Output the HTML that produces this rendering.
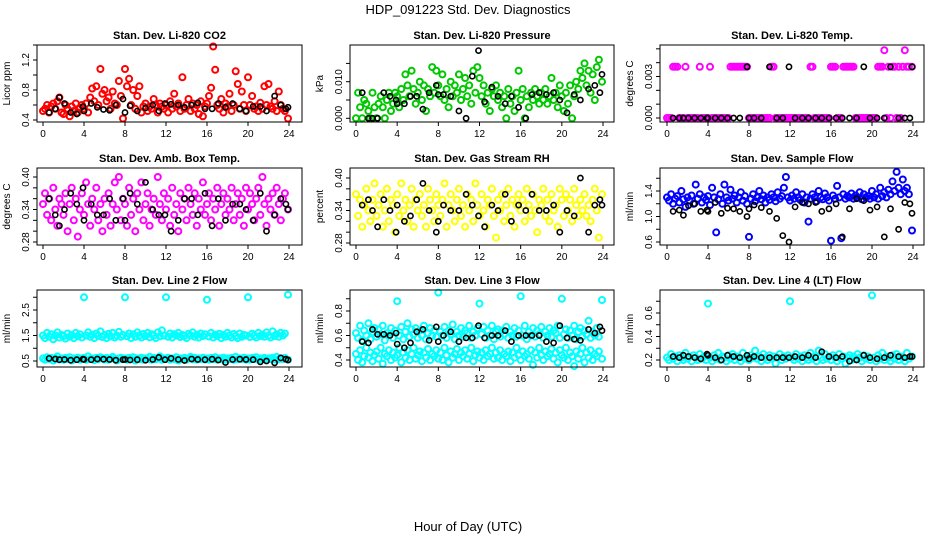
<!DOCTYPE html>
<html><head><meta charset="utf-8">
<style>
html,body{margin:0;padding:0;background:#fff;}
svg{display:block;font-family:"Liberation Sans",sans-serif;}
</style></head>
<body>
<svg id="chart" width="936" height="540" viewBox="0 0 936 540" xmlns="http://www.w3.org/2000/svg">
<rect width="936" height="540" fill="#fff"/>
<text x="468" y="14" text-anchor="middle" font-size="13">HDP_091223  Std. Dev. Diagnostics</text>
<text x="468" y="531" text-anchor="middle" font-size="13">Hour of Day (UTC)</text>
</svg>
<script>
// shared hours for coloured (mean) points and black points
const hoursC = [0,0.2,0.4,0.6,0.8,1,1.2,1.4,1.6,1.8,2,2.2,2.4,2.6,2.8,3,3.2,3.4,3.6,3.8,4,4.2,4.4,4.6,4.8,5,5.2,5.4,5.6,5.8,6,6.2,6.4,6.6,6.8,7,7.2,7.4,7.6,7.8,8,8.2,8.4,8.6,8.8,9,9.2,9.4,9.6,9.8,10,10.2,10.4,10.6,10.8,11,11.2,11.4,11.6,11.8,12,12.2,12.4,12.6,12.8,13,13.2,13.4,13.6,13.8,14,14.2,14.4,14.6,14.8,15,15.2,15.4,15.6,15.8,16,16.2,16.4,16.6,16.8,17,17.2,17.4,17.6,17.8,18,18.2,18.4,18.6,18.8,19,19.2,19.4,19.6,19.8,20,20.2,20.4,20.6,20.8,21,21.2,21.4,21.6,21.8,22,22.2,22.4,22.6,22.8,23,23.2,23.4,23.6,23.9];
const hoursK = [0.6,1.2,1.6,2.1,2.7,3.3,3.9,4,4.7,5.3,5.9,6.5,7.1,7.8,8,8.5,9.2,10,10.7,11.3,11.9,12.5,13.2,13.8,14.5,15.1,15.8,16.5,17.1,17.8,18.5,19.2,19.8,20.5,21.2,21.8,22.6,23.2,23.7,23.9];
const xTicks = [0,4,8,12,16,20,24];

const co2C = [.52,.55,.6,.5,.58,.62,.55,.65,.7,.5,.48,.6,.55,.45,.58,.52,.62,.5,.56,.6,.55,.62,.5,.7,.82,.65,.85,.6,1.08,.75,.8,.65,.7,.55,.78,.62,.6,.92,.72,.42,1.08,.85,.95,.6,.8,.55,.72,.85,.5,.58,.62,.52,.58,.55,.68,.6,.5,.62,.58,.55,.6,.5,.65,.55,.75,.58,.62,.52,.97,.55,.6,.68,.52,.62,.55,.6,.48,.65,.45,.58,.62,.72,.83,1.38,1.07,.6,.55,.68,.5,.62,.58,.75,.52,.6,1.05,.88,.55,.78,.6,.52,.97,.6,.72,.55,.58,.52,.63,.55,.85,.6,.88,.58,.55,.65,.52,.78,.6,.55,.52,.42];
const co2K = [.5,.55,.7,.62,.5,.48,.58,.52,.62,.57,.54,.53,.6,.68,.5,.59,.52,.56,.6,.52,.62,.61,.6,.57,.6,.63,.55,.55,.62,.57,.62,.55,.52,.58,.58,.52,.72,.6,.55,.57];

const presC = [0,.007,.003,0,.005,.004,.002,0,.007,.003,0,.004,.006,.003,0,.005,.007,.002,.004,.007,.006,.003,.008,.005,.012,.009,.006,.013,.008,.004,.007,.01,.005,.009,.002,.008,.006,.014,.007,.013,.009,.006,.012,.005,.008,.003,.01,.006,.009,.007,.012,.005,.008,.011,.006,.009,.004,.013,.007,.014,.011,.006,.009,.004,.007,.002,.008,.006,.009,.005,.007,.003,.006,0,.008,.004,.006,.002,.007,.013,.005,.008,0,.006,.003,.007,.005,.008,.006,.004,.007,.005,.008,.004,.006,.011,.005,.007,.003,.009,.006,.002,.007,.004,.009,0,.006,.01,.008,.013,.011,.015,.009,.013,.007,.012,.005,.014,.016,.01];
const presK = [.007,0,0,0,.007,.006,.005,.004,.004,.006,.006,.0025,.007,.009,.0065,.0065,.006,.002,0,.0115,.0185,.0045,.0085,.006,.004,.006,.003,0,.0065,.007,.0065,.007,.005,.0015,.0065,.005,.008,.009,.007,.012];

const tempC = [0,0,0,.0037,.0037,.0037,0,0,0,.0037,0,0,0,0,0,0,.0037,0,0,0,0,.0037,0,0,0,0,0,0,0,0,0,.0037,.0037,.0037,.0037,.0037,.0037,.0037,.0037,.0037,0,0,0,0,0,0,0,0,0,0,0,.0037,.0037,0,0,0,0,0,0,0,0,0,0,0,0,0,0,0,0,0,.0037,.0037,0,0,0,0,0,0,0,0,.0037,.0037,.0037,0,0,0,.0037,.0037,.0037,.0037,.0037,.0037,0,0,0,0,0,0,0,0,0,0,0,.0037,.0037,.0037,.0049,0,.0037,0,.0037,.0037,0,.0037,0,.0037,.0049,.0037,.0037,.0037];
const tempK = [0,0,0,0,0,0,0,0,0,0,0,0,0,.0037,0,0,0,.0037,0,0,.0037,0,0,0,0,0,0,0,0,0,0,.0037,0,0,0,.0037,0,0,0,.0037];

const ambC = [.35,.37,.33,.36,.32,.38,.34,.31,.36,.35,.33,.37,.30,.35,.38,.32,.36,.29,.34,.37,.33,.39,.35,.31,.36,.34,.38,.32,.35,.30,.36,.33,.37,.31,.35,.39,.34,.40,.32,.36,.35,.31,.38,.33,.36,.30,.37,.34,.39,.32,.35,.37,.31,.34,.36,.33,.40,.35,.32,.37,.34,.36,.31,.38,.33,.35,.30,.37,.34,.36,.32,.38,.35,.33,.37,.31,.36,.34,.39,.33,.35,.37,.32,.36,.34,.38,.31,.35,.37,.33,.36,.34,.38,.32,.35,.37,.33,.36,.31,.38,.34,.37,.35,.32,.36,.38,.33,.40,.35,.31,.36,.34,.37,.33,.38,.35,.32,.36,.37,.34];
const ambK = [.36,.33,.31,.34,.37,.35,.38,.32,.35,.33,.33,.36,.32,.36,.32,.37,.35,.39,.34,.33,.33,.30,.32,.36,.36,.33,.37,.31,.36,.32,.35,.35,.34,.32,.37,.30,.33,.36,.35,.34];

const rhC = [.37,.33,.36,.31,.35,.38,.34,.32,.36,.39,.33,.35,.37,.31,.34,.38,.32,.36,.35,.30,.37,.33,.39,.34,.36,.32,.35,.38,.31,.36,.34,.37,.33,.35,.31,.38,.36,.34,.32,.37,.35,.33,.36,.39,.31,.35,.37,.34,.32,.36,.38,.33,.35,.31,.37,.34,.36,.32,.39,.35,.33,.37,.34,.31,.36,.35,.38,.33,.29,.36,.34,.37,.32,.35,.38,.33,.36,.31,.35,.37,.34,.36,.32,.38,.35,.33,.37,.34,.30,.36,.35,.38,.33,.36,.32,.37,.34,.35,.31,.38,.36,.33,.37,.34,.36,.32,.38,.35,.33,.36,.34,.37,.33,.35,.32,.36,.38,.34,.29,.37];
const rhK = [.35,.36,.34,.31,.36,.34,.30,.35,.32,.33,.36,.39,.34,.30,.32,.35,.34,.34,.37,.35,.33,.31,.35,.34,.37,.32,.35,.34,.37,.34,.34,.35,.30,.34,.33,.40,.30,.35,.36,.35];

const sfC = [1.3,1.25,1.35,1.2,1.28,1.32,1.22,1.4,1.27,1.15,1.3,1.25,1.33,1.2,1.5,1.28,1.35,1.22,1.3,1.26,1.32,1.18,1.45,1.3,0.75,1.27,1.35,1.2,1.5,1.3,1.25,1.42,1.28,1.33,1.22,1.3,1.38,1.25,1.32,1.2,0.68,1.28,1.35,1.24,1.3,1.4,1.27,1.33,1.22,1.3,1.26,1.35,1.3,1.24,1.38,1.28,1.32,1.45,1.62,1.3,1.25,1.33,1.28,1.38,1.3,1.26,1.35,1.22,1.3,0.92,1.28,1.35,1.3,1.24,1.4,1.3,1.27,1.36,1.3,1.25,0.62,1.33,1.28,1.48,1.3,0.66,1.35,1.28,1.32,1.3,1.36,1.28,1.33,1.3,1.38,1.27,1.35,1.3,1.32,1.28,1.4,1.3,1.35,1.28,1.45,1.32,1.38,1.3,1.42,1.35,1.55,1.4,1.7,1.45,1.35,1.58,1.4,1.45,1.35,0.78];
const sfK = [1.08,1.1,1.02,1.17,1.2,1.08,1.1,1.08,1.22,1.05,1.13,1.12,1.08,1.0,1.12,1.18,1.14,1.08,0.97,0.7,0.6,1.15,1.22,1.2,1.22,1.08,1.12,1.2,0.68,1.12,1.28,1.25,1.1,1.15,0.68,1.12,0.8,1.22,1.2,1.05];

const l2Hi = [1.5,1.4,1.6,1.45,1.55,1.35,1.5,1.62,1.42,1.52,1.48,1.38,1.58,1.45,1.52,1.4,1.6,1.47,1.55,1.42,3.0,1.5,1.62,1.45,1.53,1.4,1.58,1.48,1.66,1.44,1.52,1.4,1.57,1.46,1.6,1.42,1.5,1.64,1.45,1.52,3.0,1.47,1.58,1.4,1.55,1.45,1.62,1.5,1.42,1.56,1.48,1.6,1.43,1.55,1.5,1.4,1.62,1.47,1.7,1.5,3.0,1.45,1.58,1.42,1.55,1.5,1.6,1.44,1.52,1.48,1.4,1.57,1.5,1.62,1.45,1.53,1.42,1.58,1.48,1.55,2.9,1.46,1.6,1.42,1.53,1.48,1.57,1.4,1.52,1.45,1.6,1.5,1.42,1.56,1.48,1.4,1.58,1.45,1.52,1.5,3.0,1.44,1.57,1.5,1.42,1.6,1.48,1.53,1.45,1.62,1.5,1.42,1.66,1.48,1.55,1.45,1.6,1.5,1.58,3.1];
const l2Lo = [.6,.55,.65,.58,.62,.52,.6,.68,.56,.6,.55,.62,.58,.65,.52,.6,.57,.63,.55,.6,.62,.55,.68,.58,.6,.53,.62,.57,.65,.6,.56,.62,.55,.6,.66,.58,.52,.6,.63,.57,.6,.55,.62,.58,.65,.52,.6,.57,.63,.55,.6,.58,.66,.55,.62,.57,.6,.68,.55,.6,.58,.63,.55,.6,.57,.65,.52,.6,.58,.62,.55,.6,.66,.57,.62,.55,.6,.58,.63,.56,.6,.55,.62,.58,.65,.55,.6,.57,.63,.55,.6,.58,.62,.55,.66,.57,.6,.58,.63,.55,.6,.56,.62,.58,.65,.55,.6,.57,.62,.55,.6,.58,.63,.56,.66,.57,.6,.58,.62,.55];
const l2K = [.6,.58,.55,.56,.53,.55,.57,.56,.55,.58,.57,.56,.53,.55,.56,.54,.55,.53,.56,.64,.55,.6,.56,.52,.58,.56,.55,.57,.54,.44,.56,.57,.56,.55,.47,.5,.43,.62,.57,.54];

const l3Lo = [.45,.4,.48,.38,.43,.5,.42,.46,.39,.44,.47,.41,.5,.37,.45,.43,.48,.4,.46,.42,.44,.5,.38,.46,.42,.48,.4,.45,.5,.41,.44,.47,.39,.46,.42,.49,.4,.45,.43,.48,.41,.46,.4,.5,.44,.38,.47,.42,.45,.49,.4,.46,.43,.48,.41,.45,.5,.39,.44,.47,.42,.46,.4,.48,.43,.45,.5,.41,.46,.42,.48,.4,.45,.43,.47,.39,.46,.42,.5,.44,.4,.47,.43,.45,.41,.48,.36,.46,.42,.5,.44,.4,.47,.43,.45,.49,.41,.46,.38,.48,.44,.42,.5,.4,.46,.43,.35,.47,.41,.45,.5,.38,.46,.42,.48,.4,.45,.43,.47,.41];
const l3Hi = [.62,.58,.68,.56,.64,.6,.7,.57,.63,.66,.59,.65,.61,.68,.56,.62,.6,.66,.58,.64,.88,.6,.67,.57,.63,.7,.59,.65,.61,.66,.58,.64,.6,.68,.57,.62,.66,.6,.64,.59,.95,.63,.6,.67,.58,.64,.61,.69,.57,.63,.6,.66,.59,.64,.62,.68,.58,.63,.6,.66,.86,.61,.67,.58,.64,.6,.68,.57,.63,.65,.59,.64,.61,.67,.58,.63,.6,.66,.59,.64,.92,.6,.68,.57,.63,.6,.66,.59,.64,.61,.67,.58,.63,.6,.66,.59,.64,.62,.68,.58,.9,.61,.65,.58,.64,.6,.68,.57,.63,.66,.59,.64,.61,.72,.58,.63,.6,.66,.59,.89];
const l3K = [.55,.54,.65,.61,.61,.6,.62,.53,.5,.54,.63,.65,.56,.67,.55,.6,.63,.55,.58,.58,.68,.58,.6,.6,.64,.55,.6,.6,.6,.6,.55,.54,.68,.58,.57,.56,.65,.62,.67,.64];

const l4C = [.22,.2,.25,.21,.23,.19,.24,.22,.2,.26,.21,.23,.19,.24,.22,.2,.25,.21,.23,.2,.68,.22,.19,.24,.21,.26,.2,.23,.22,.19,.24,.21,.25,.2,.23,.22,.19,.26,.21,.23,.2,.24,.22,.28,.21,.23,.19,.25,.22,.2,.24,.21,.23,.17,.22,.25,.2,.23,.21,.24,.7,.22,.2,.25,.21,.23,.19,.24,.22,.2,.26,.21,.23,.19,.28,.22,.2,.25,.21,.23,.2,.24,.22,.19,.25,.21,.23,.17,.22,.24,.2,.23,.21,.25,.22,.19,.24,.21,.23,.2,.75,.22,.19,.24,.21,.26,.2,.23,.22,.19,.24,.21,.25,.2,.23,.22,.19,.26,.21,.23];
const l4K = [.23,.22,.24,.23,.22,.21,.25,.24,.22,.2,.24,.23,.22,.24,.21,.23,.22,.22,.22,.22,.22,.23,.22,.24,.22,.27,.23,.22,.23,.19,.2,.24,.22,.21,.22,.24,.23,.22,.23,.23];

const ticks = {
  co2:[.4,.6,.8,1.0,1.2,1.4], pres:[0,.005,.01,.015], temp:[0,.001,.002,.003,.004,.005],
  amb:[.28,.30,.32,.34,.36,.38,.40], rh:[.28,.30,.32,.34,.36,.38,.40], sf:[.6,.8,1.0,1.2,1.4,1.6],
  l2:[.5,1,1.5,2,2.5,3], l3:[.4,.5,.6,.7,.8,.9], l4:[.2,.3,.4,.5,.6,.7]
};
const tickLabels = {
  co2:["0.4","","0.8","","1.2",""], pres:["0.000","","0.010",""], temp:["0.000","","","0.003","",""],
  amb:["0.28","","","0.34","","","0.40"], rh:["0.28","","","0.34","","","0.40"], sf:["0.6","","1.0","","1.4",""],
  l2:["0.5","","1.5","","2.5",""], l3:["0.4","","0.6","","0.8",""], l4:["0.2","","0.4","","0.6",""]
};

const cols = [{l:37,r:302,x0:43,x24:289},{l:350,r:614,x0:356,x24:603},{l:660,r:924,x0:667,x24:913}];
const rows = [{t:45,b:122},{t:168,b:245},{t:290,b:367}];
const panels = [
 {key:'co2',name:'co2-panel',title:'Stan. Dev. Li-820 CO2',yl:'Licor ppm',c:0,r:0,map:[.4,120,1.2,60],series:[[co2C,hoursC,'#ff0000'],[co2K,hoursK,'#000']]},
 {key:'pres',name:'pressure-panel',title:'Stan. Dev. Li-820 Pressure',yl:'kPa',c:1,r:0,map:[0,118.3,.01,81.7],series:[[presC,hoursC,'#00c800'],[presK,hoursK,'#000']]},
 {key:'temp',name:'li820-temp-panel',title:'Stan. Dev. Li-820 Temp.',yl:'degrees C',c:2,r:0,map:[0,118,.003,76.5],series:[[tempC,hoursC,'#ff00ff'],[tempK,hoursK,'#000']]},
 {key:'amb',name:'amb-box-temp-panel',title:'Stan. Dev. Amb. Box Temp.',yl:'degrees C',c:0,r:1,map:[.28,242,.40,177],series:[[ambC,hoursC,'#ff00ff'],[ambK,hoursK,'#000']]},
 {key:'rh',name:'gas-stream-rh-panel',title:'Stan. Dev. Gas Stream RH',yl:'percent',c:1,r:1,map:[.28,243,.40,178],series:[[rhC,hoursC,'#ffff00'],[rhK,hoursK,'#000']]},
 {key:'sf',name:'sample-flow-panel',title:'Stan. Dev. Sample Flow',yl:'ml/min',c:2,r:1,map:[.6,242,1.4,191],series:[[sfC,hoursC,'#0000ff'],[sfK,hoursK,'#000']]},
 {key:'l2',name:'line2-flow-panel',title:'Stan. Dev. Line 2 Flow',yl:'ml/min',c:0,r:2,map:[.5,361,2.5,310],series:[[l2Hi,hoursC,'#00ffff'],[l2Lo,hoursC,'#00ffff'],[l2K,hoursK,'#000']]},
 {key:'l3',name:'line3-flow-panel',title:'Stan. Dev. Line 3 Flow',yl:'ml/min',c:1,r:2,map:[.4,360,.8,311],series:[[l3Lo,hoursC,'#00ffff'],[l3Hi,hoursC,'#00ffff'],[l3K,hoursK,'#000']]},
 {key:'l4',name:'line4-flow-panel',title:'Stan. Dev. Line 4 (LT) Flow',yl:'ml/min',c:2,r:2,map:[.2,360,.6,313],series:[[l4C,hoursC,'#00ffff'],[l4K,hoursK,'#000']]}
];

const NS='http://www.w3.org/2000/svg';
const svg=document.getElementById('chart');
function mk(tag,attrs,parent){const e=document.createElementNS(NS,tag);for(const k in attrs)e.setAttribute(k,attrs[k]);parent.appendChild(e);return e;}

panels.forEach(p=>{
  const C=cols[p.c],R=rows[p.r];
  const xs=h=>C.x0+(C.x24-C.x0)*h/24;
  const ys=v=>p.map[1]+(v-p.map[0])*(p.map[3]-p.map[1])/(p.map[2]-p.map[0]);
  const g=mk('g',{},svg);
  
  
  const cx=(C.l+C.r)/2;
  const t=mk('text',{x:cx,y:R.t-6,'text-anchor':'middle','font-size':11,'font-weight':'bold'},g);
  t.textContent=p.title;
  
  
  const yl=mk('text',{x:0,y:0,'text-anchor':'middle','font-size':10,transform:`translate(${C.l-27},${(R.t+R.b)/2}) rotate(-90)`},g);
  yl.textContent=p.yl;
  
  
  p.series.forEach(s=>{
    const [vals,hrs,col]=s;
    const black = col==='#000';
    vals.forEach((v,i)=>{
      const c=mk('circle',{cx:xs(hrs[i]).toFixed(1),cy:ys(v).toFixed(1),r:black?2.6:3,fill:'none',stroke:col,'stroke-width':black?1.6:2},g);
      
      
    });
  });
  const b=mk('rect',{x:C.l,y:R.t,width:C.r-C.l,height:R.b-R.t,fill:'none',stroke:'#000','stroke-width':1},g);
  
  
  xTicks.forEach(h=>{
    mk('line',{x1:xs(h),x2:xs(h),y1:R.b,y2:R.b+4,stroke:'#000'},g);
    const tl=mk('text',{x:xs(h),y:R.b+15,'text-anchor':'middle','font-size':10},g);
    tl.textContent=h;
    
    
  });
  ticks[p.key].forEach((v,i)=>{
    const y=ys(v);
    if(y<R.t-0.5||y>R.b+0.5)return;
    mk('line',{x1:C.l-4,x2:C.l,y1:y,y2:y,stroke:'#000'},g);
    const lab=tickLabels[p.key][i];
    if(lab){
      const tl=mk('text',{x:0,y:0,'text-anchor':'middle','font-size':10,transform:`translate(${C.l-8},${y}) rotate(-90)`},g);
      tl.textContent=lab;
      
      
    }
  });
});
</script>
</body></html>
